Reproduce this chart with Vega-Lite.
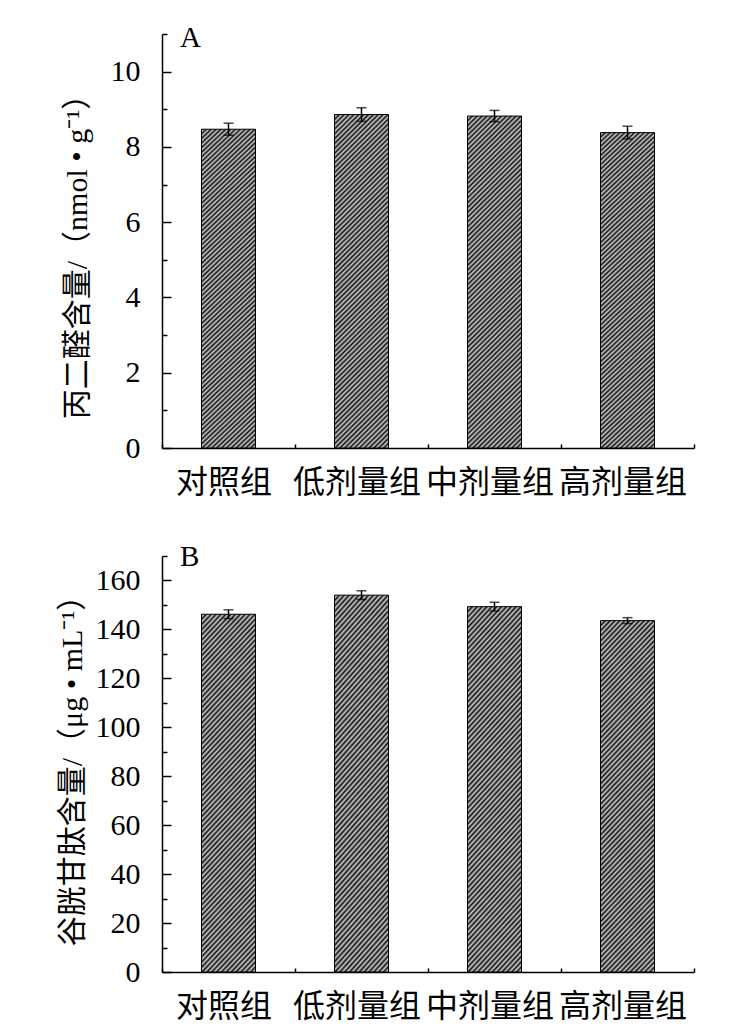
{
"$schema": "https://vega.github.io/schema/vega-lite/v6.json",
"padding": {"left": 56, "top": 24, "right": 5, "bottom": 5},
"spacing": 45,
"config": {
  "view": {"stroke": null},
  "font": "Liberation Serif",
  "bar": {"stroke": "black", "strokeWidth": 1, "fill": {"gradient": "linear", "x1": 0, "y1": 0, "x2": 0.1826, "y2": 1.132, "stops": [
{"offset":0,"color":"#111"},{"offset":0.00625,"color":"#ccc"},{"offset":0.0125,"color":"#111"},{"offset":0.01875,"color":"#ccc"},{"offset":0.025,"color":"#111"},{"offset":0.03125,"color":"#ccc"},{"offset":0.0375,"color":"#111"},{"offset":0.04375,"color":"#ccc"},{"offset":0.05,"color":"#111"},{"offset":0.05625,"color":"#ccc"},{"offset":0.0625,"color":"#111"},{"offset":0.06875,"color":"#ccc"},{"offset":0.075,"color":"#111"},{"offset":0.08125,"color":"#ccc"},{"offset":0.0875,"color":"#111"},{"offset":0.09375,"color":"#ccc"},
{"offset":0.1,"color":"#111"},{"offset":0.10625,"color":"#ccc"},{"offset":0.1125,"color":"#111"},{"offset":0.11875,"color":"#ccc"},{"offset":0.125,"color":"#111"},{"offset":0.13125,"color":"#ccc"},{"offset":0.1375,"color":"#111"},{"offset":0.14375,"color":"#ccc"},{"offset":0.15,"color":"#111"},{"offset":0.15625,"color":"#ccc"},{"offset":0.1625,"color":"#111"},{"offset":0.16875,"color":"#ccc"},{"offset":0.175,"color":"#111"},{"offset":0.18125,"color":"#ccc"},{"offset":0.1875,"color":"#111"},{"offset":0.19375,"color":"#ccc"},
{"offset":0.2,"color":"#111"},{"offset":0.20625,"color":"#ccc"},{"offset":0.2125,"color":"#111"},{"offset":0.21875,"color":"#ccc"},{"offset":0.225,"color":"#111"},{"offset":0.23125,"color":"#ccc"},{"offset":0.2375,"color":"#111"},{"offset":0.24375,"color":"#ccc"},{"offset":0.25,"color":"#111"},{"offset":0.25625,"color":"#ccc"},{"offset":0.2625,"color":"#111"},{"offset":0.26875,"color":"#ccc"},{"offset":0.275,"color":"#111"},{"offset":0.28125,"color":"#ccc"},{"offset":0.2875,"color":"#111"},{"offset":0.29375,"color":"#ccc"},
{"offset":0.3,"color":"#111"},{"offset":0.30625,"color":"#ccc"},{"offset":0.3125,"color":"#111"},{"offset":0.31875,"color":"#ccc"},{"offset":0.325,"color":"#111"},{"offset":0.33125,"color":"#ccc"},{"offset":0.3375,"color":"#111"},{"offset":0.34375,"color":"#ccc"},{"offset":0.35,"color":"#111"},{"offset":0.35625,"color":"#ccc"},{"offset":0.3625,"color":"#111"},{"offset":0.36875,"color":"#ccc"},{"offset":0.375,"color":"#111"},{"offset":0.38125,"color":"#ccc"},{"offset":0.3875,"color":"#111"},{"offset":0.39375,"color":"#ccc"},
{"offset":0.4,"color":"#111"},{"offset":0.40625,"color":"#ccc"},{"offset":0.4125,"color":"#111"},{"offset":0.41875,"color":"#ccc"},{"offset":0.425,"color":"#111"},{"offset":0.43125,"color":"#ccc"},{"offset":0.4375,"color":"#111"},{"offset":0.44375,"color":"#ccc"},{"offset":0.45,"color":"#111"},{"offset":0.45625,"color":"#ccc"},{"offset":0.4625,"color":"#111"},{"offset":0.46875,"color":"#ccc"},{"offset":0.475,"color":"#111"},{"offset":0.48125,"color":"#ccc"},{"offset":0.4875,"color":"#111"},{"offset":0.49375,"color":"#ccc"},
{"offset":0.5,"color":"#111"},{"offset":0.50625,"color":"#ccc"},{"offset":0.5125,"color":"#111"},{"offset":0.51875,"color":"#ccc"},{"offset":0.525,"color":"#111"},{"offset":0.53125,"color":"#ccc"},{"offset":0.5375,"color":"#111"},{"offset":0.54375,"color":"#ccc"},{"offset":0.55,"color":"#111"},{"offset":0.55625,"color":"#ccc"},{"offset":0.5625,"color":"#111"},{"offset":0.56875,"color":"#ccc"},{"offset":0.575,"color":"#111"},{"offset":0.58125,"color":"#ccc"},{"offset":0.5875,"color":"#111"},{"offset":0.59375,"color":"#ccc"},
{"offset":0.6,"color":"#111"},{"offset":0.60625,"color":"#ccc"},{"offset":0.6125,"color":"#111"},{"offset":0.61875,"color":"#ccc"},{"offset":0.625,"color":"#111"},{"offset":0.63125,"color":"#ccc"},{"offset":0.6375,"color":"#111"},{"offset":0.64375,"color":"#ccc"},{"offset":0.65,"color":"#111"},{"offset":0.65625,"color":"#ccc"},{"offset":0.6625,"color":"#111"},{"offset":0.66875,"color":"#ccc"},{"offset":0.675,"color":"#111"},{"offset":0.68125,"color":"#ccc"},{"offset":0.6875,"color":"#111"},{"offset":0.69375,"color":"#ccc"},
{"offset":0.7,"color":"#111"},{"offset":0.70625,"color":"#ccc"},{"offset":0.7125,"color":"#111"},{"offset":0.71875,"color":"#ccc"},{"offset":0.725,"color":"#111"},{"offset":0.73125,"color":"#ccc"},{"offset":0.7375,"color":"#111"},{"offset":0.74375,"color":"#ccc"},{"offset":0.75,"color":"#111"},{"offset":0.75625,"color":"#ccc"},{"offset":0.7625,"color":"#111"},{"offset":0.76875,"color":"#ccc"},{"offset":0.775,"color":"#111"},{"offset":0.78125,"color":"#ccc"},{"offset":0.7875,"color":"#111"},{"offset":0.79375,"color":"#ccc"},
{"offset":0.8,"color":"#111"},{"offset":0.80625,"color":"#ccc"},{"offset":0.8125,"color":"#111"},{"offset":0.81875,"color":"#ccc"},{"offset":0.825,"color":"#111"},{"offset":0.83125,"color":"#ccc"},{"offset":0.8375,"color":"#111"},{"offset":0.84375,"color":"#ccc"},{"offset":0.85,"color":"#111"},{"offset":0.85625,"color":"#ccc"},{"offset":0.8625,"color":"#111"},{"offset":0.86875,"color":"#ccc"},{"offset":0.875,"color":"#111"},{"offset":0.88125,"color":"#ccc"},{"offset":0.8875,"color":"#111"},{"offset":0.89375,"color":"#ccc"},
{"offset":0.9,"color":"#111"},{"offset":0.90625,"color":"#ccc"},{"offset":0.9125,"color":"#111"},{"offset":0.91875,"color":"#ccc"},{"offset":0.925,"color":"#111"},{"offset":0.93125,"color":"#ccc"},{"offset":0.9375,"color":"#111"},{"offset":0.94375,"color":"#ccc"},{"offset":0.95,"color":"#111"},{"offset":0.95625,"color":"#ccc"},{"offset":0.9625,"color":"#111"},{"offset":0.96875,"color":"#ccc"},{"offset":0.975,"color":"#111"},{"offset":0.98125,"color":"#ccc"},{"offset":0.9875,"color":"#111"},{"offset":0.99375,"color":"#ccc"},
{"offset":1,"color":"#111"}
  ]}},
  "axis": {"grid": false, "domainColor": "black", "domainWidth": 1.5, "tickColor": "black", "tickWidth": 1.5, "labelColor": "black", "titleColor": "black"},
  "title": {"anchor": "start", "frame": "group", "fontSize": 29, "font": "Liberation Serif", "fontWeight": "normal", "color": "black", "baseline": "alphabetic", "dx": 18}
},
"vconcat": [
  {
    "width": 532, "height": 414,
    "title": {"text": "A", "offset": -20},
    "data": {"values": [
      {"group": "对照组", "mean": 8.47, "err": 0.16},
      {"group": "低剂量组", "mean": 8.86, "err": 0.18},
      {"group": "中剂量组", "mean": 8.82, "err": 0.15},
      {"group": "高剂量组", "mean": 8.38, "err": 0.17}
    ]},
    "encoding": {
      "x": {"field": "group", "type": "nominal", "sort": null, "scale": {"paddingInner": 0, "paddingOuter": 0},
            "axis": {"title": null, "labelAngle": 0, "labelFont": "Noto Sans CJK SC", "labelFontSize": 32, "labelBaseline": "middle", "labelPadding": 38, "labelOffset": -5, "tickBand": "extent", "tickSize": -4}},
      "y": {"field": "mean", "type": "quantitative", "scale": {"domain": [0, 11], "nice": false},
            "axis": {"values": [0,1,2,3,4,5,6,7,8,9,10,11], "labelExpr": "datum.value % 2 === 0 ? datum.label : ''",
                     "tickSize": {"condition": {"test": "datum.value % 2 === 0", "value": -9}, "value": -5},
                     "labelFont": "Liberation Serif", "labelFontSize": 30, "labelPadding": 31,
                     "title": "丙二醛含量/（nmol • g⁻¹）", "titleFont": "Liberation Serif, Noto Sans CJK SC", "titleFontSize": 30, "titleFontWeight": "normal",
                     "titleBaseline": "middle", "titleX": -85, "titleY": 215}}
    },
    "layer": [
      {"mark": {"type": "bar", "size": 54}},
      {
        "mark": {"type": "errorbar", "color": "black", "thickness": 1.5, "ticks": {"size": 10, "thickness": 1.5, "color": "black"}},
        "encoding": {"yError": {"field": "err"}}
      }
    ]
  },
  {
    "width": 532, "height": 416,
    "title": {"text": "B", "offset": -17},
    "data": {"values": [
      {"group": "对照组", "mean": 146.2, "err": 1.8},
      {"group": "低剂量组", "mean": 154.0, "err": 1.8},
      {"group": "中剂量组", "mean": 149.3, "err": 1.8},
      {"group": "高剂量组", "mean": 143.6, "err": 1.2}
    ]},
    "encoding": {
      "x": {"field": "group", "type": "nominal", "sort": null, "scale": {"paddingInner": 0, "paddingOuter": 0},
            "axis": {"title": null, "labelAngle": 0, "labelFont": "Noto Sans CJK SC", "labelFontSize": 32, "labelBaseline": "middle", "labelPadding": 38, "labelOffset": -5, "tickBand": "extent", "tickSize": -4}},
      "y": {"field": "mean", "type": "quantitative", "scale": {"domain": [0, 170], "nice": false},
            "axis": {"values": [0,10,20,30,40,50,60,70,80,90,100,110,120,130,140,150,160,170], "labelExpr": "datum.value % 20 === 0 ? datum.label : ''",
                     "tickSize": {"condition": {"test": "datum.value % 20 === 0", "value": -9}, "value": -5},
                     "labelFont": "Liberation Serif", "labelFontSize": 30, "labelPadding": 31,
                     "title": "谷胱甘肽含量/（μg • mL⁻¹）", "titleFont": "Liberation Serif, Noto Sans CJK SC", "titleFontSize": 30, "titleFontWeight": "normal",
                     "titleBaseline": "middle", "titleX": -90, "titleY": 207}}
    },
    "layer": [
      {"mark": {"type": "bar", "size": 54}},
      {
        "mark": {"type": "errorbar", "color": "black", "thickness": 1.5, "ticks": {"size": 10, "thickness": 1.5, "color": "black"}},
        "encoding": {"yError": {"field": "err"}}
      }
    ]
  }
]
}
